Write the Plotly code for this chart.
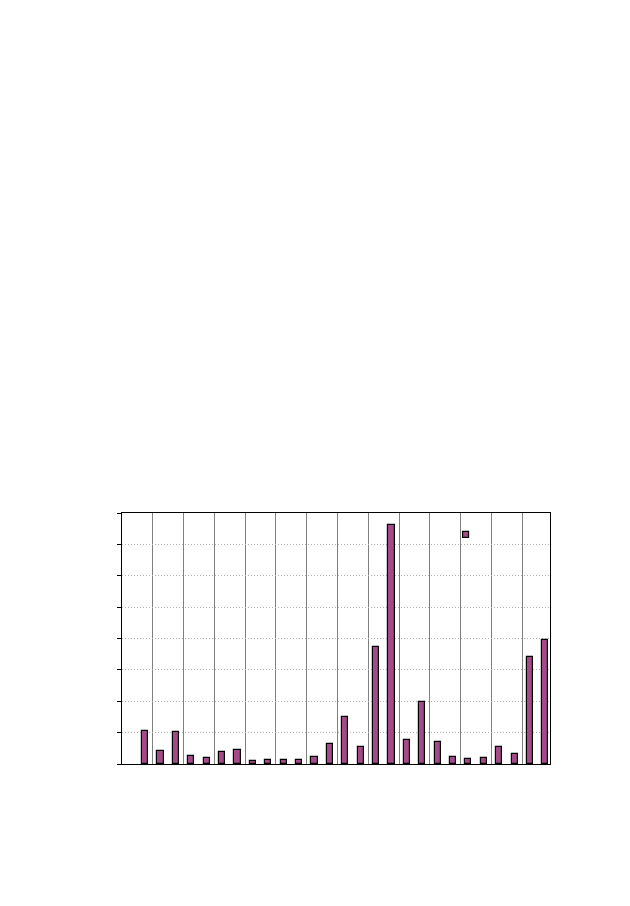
import plotly.graph_objects as go

# values, one bar per slot
slots = list(range(27))
values = [1.05, 0.41, 1.02, 0.26, 0.19, 0.38, 0.45, 0.10, 0.13, 0.13,
          0.13, 0.22, 0.64, 1.50, 0.54, 3.73, 7.62, 0.77, 1.98, 0.70,
          0.22, 0.16, 0.19, 0.54, 0.32, 3.41, 3.95]
group_edges = [0.5 + 2 * i for i in range(13)]
y_ticks = list(range(9))

bar_color = "#a54a88"

fig = go.Figure()
fig.add_trace(go.Bar(x=slots, y=values, width=0.4,
                     marker=dict(color=bar_color, line=dict(color="black", width=1.2)),
                     showlegend=False))
# legend key only
fig.add_trace(go.Scatter(x=[None], y=[None], mode="markers", name=" ",
                         marker=dict(symbol="square", size=6, color=bar_color,
                                     line=dict(color="black", width=1.2))))

# white box behind the key, like gnuplot's key
fig.add_shape(type="rect", xref="paper", yref="paper", x0=0.797, x1=0.997,
              y0=0.900, y1=0.968, fillcolor="white", line_width=0, layer="between")

fig.update_layout(
    width=630, height=906,
    margin=dict(l=114, r=88, t=505, b=150),
    plot_bgcolor="white", paper_bgcolor="white",
    showlegend=True,
    legend=dict(x=0.756, y=0.973, xanchor="left", yanchor="top",
                bgcolor="rgba(0,0,0,0)", font=dict(size=10, color="white")),
    bargap=0,
)
fig.update_xaxes(range=[-1.5, 26.3], tickvals=group_edges, showticklabels=False,
                 ticks="", showgrid=True, gridcolor="#808080", gridwidth=1,
                 showline=True, linecolor="black", linewidth=1, mirror=True,
                 zeroline=False)
fig.update_yaxes(range=[0, 8], tickvals=y_ticks, showticklabels=False,
                 ticks="outside", ticklen=4, tickcolor="black",
                 showgrid=True, gridcolor="#b0b0b0", griddash="1px,2px", gridwidth=1,
                 showline=True, linecolor="black", linewidth=1, mirror=True,
                 zeroline=False)

fig.write_html("out.html")
